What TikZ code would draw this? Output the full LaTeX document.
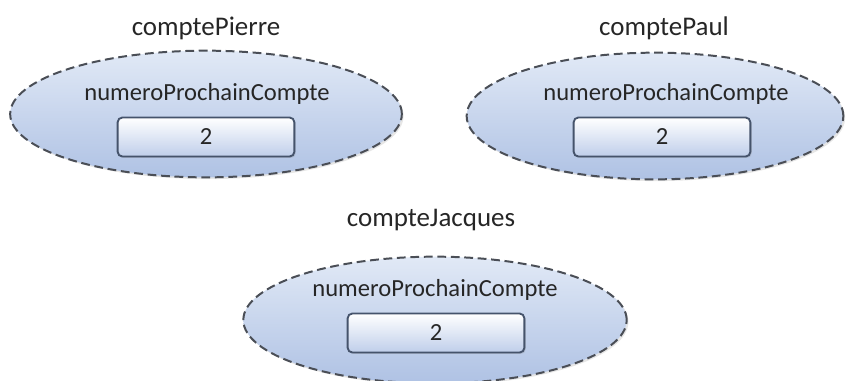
\documentclass[tikz,border=0pt]{standalone}
\usepackage{fontspec}
\setmainfont{Carlito}
\usepackage{tikz}
\usetikzlibrary{positioning,shapes.geometric,shadows}

\definecolor{objfillTop}{HTML}{E1E9F6}
\definecolor{objfillBot}{HTML}{AFC2E4}
\definecolor{objline}{HTML}{4A4E56}
\definecolor{slotline}{HTML}{45536B}
\definecolor{slotBot}{HTML}{BFCEEA}

\begin{document}
\begin{tikzpicture}[
  x=0.03cm, y=-0.03cm,
  instance/.style={ellipse, draw=objline, dash pattern=on 7.5pt off 4pt,
                   line width=1.7pt, top color=objfillTop, bottom color=objfillBot,
                   minimum width=#1, minimum height=3.8cm,
                   drop shadow={opacity=0.2, shadow xshift=1.5pt, shadow yshift=-1.5pt}},
  instance/.default=11.75cm,
  title/.style={font=\fontsize{23}{26}\selectfont, text=black!85},
  attr/.style={font=\fontsize{21}{24}\selectfont, text=black!85},
  slot/.style={rectangle, rounded corners=4pt, draw=slotline, line width=1.6pt,
               top color=white, bottom color=slotBot,
               minimum width=5.3cm, minimum height=1.17cm,
               font=\fontsize{21}{24}\selectfont, text=black!85,
               drop shadow={opacity=0.25, shadow xshift=1.2pt, shadow yshift=-1.2pt}}
]
\useasboundingbox (0,0) rectangle (846,380);
% ── objects ──────────────────────────────────────────────────────────────────
\node[instance]        (pierre)  at (206,114) {};
\node[instance=11.3cm] (paul)    at (655,116) {};
\node[instance=11.5cm] (jacques) at (435,320) {};

% ── object names ─────────────────────────────────────────────────────────────
\node[title] (pierreName)  at (206,28)  {comptePierre};
\node[title] (paulName)    at (664,28)  {comptePaul};
\node[title] (jacquesName) at (431,220) {compteJacques};

% ── attribute and value ──────────────────────────────────────────────────────
\node[attr] (pierreAttr)  at (207,94)  {numeroProchainCompte};
\node[slot] (pierreVal)   at (206,137) {2};
\node[attr] (paulAttr)    at (666,94)  {numeroProchainCompte};
\node[slot] (paulVal)     at (662,137) {2};
\node[attr] (jacquesAttr) at (435,290) {numeroProchainCompte};
\node[slot] (jacquesVal)  at (436,333) {2};
\end{tikzpicture}
\end{document}
